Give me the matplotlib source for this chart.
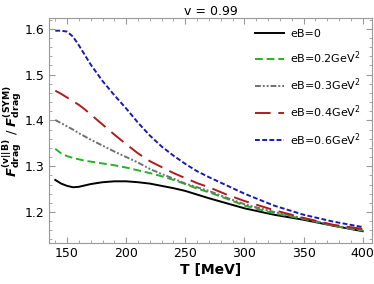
import numpy as np
import matplotlib
matplotlib.use('Agg')
import matplotlib.pyplot as plt
from matplotlib.ticker import MultipleLocator

# Temperature grid [MeV]
T = [140, 145, 150, 155, 160, 165, 170, 180, 190, 200, 210, 220, 230,
     240, 250, 260, 270, 285, 300, 325, 350, 375, 400]

# ratio F_drag(v||B) / F_drag(SYM)
eB_0 = [1.270, 1.262, 1.257, 1.254, 1.255, 1.258, 1.261, 1.265, 1.267,
        1.267, 1.265, 1.262, 1.257, 1.252, 1.246, 1.238, 1.230, 1.219,
        1.208, 1.194, 1.183, 1.170, 1.158]
eB_02 = [1.338, 1.328, 1.322, 1.318, 1.315, 1.312, 1.310, 1.306, 1.302,
         1.297, 1.291, 1.285, 1.278, 1.270, 1.261, 1.251, 1.243, 1.229,
         1.214, 1.197, 1.185, 1.170, 1.159]
eB_03 = [1.401, 1.394, 1.387, 1.380, 1.372, 1.365, 1.358, 1.345, 1.332,
         1.320, 1.308, 1.294, 1.283, 1.273, 1.262, 1.254, 1.246, 1.231,
         1.217, 1.200, 1.186, 1.171, 1.160]
eB_04 = [1.465, 1.458, 1.450, 1.442, 1.434, 1.424, 1.413, 1.391, 1.369,
         1.348, 1.328, 1.311, 1.298, 1.285, 1.274, 1.263, 1.254, 1.238,
         1.224, 1.204, 1.187, 1.172, 1.163]
eB_06 = [1.596, 1.596, 1.594, 1.583, 1.564, 1.543, 1.522, 1.486, 1.455,
         1.426, 1.395, 1.367, 1.343, 1.323, 1.305, 1.289, 1.276, 1.258,
         1.240, 1.214, 1.194, 1.179, 1.167]

labels = ['eB=0', 'eB=0.2GeV$^2$', 'eB=0.3GeV$^2$', 'eB=0.4GeV$^2$',
          'eB=0.6GeV$^2$']

fig = plt.figure(figsize=(3.74, 2.84), dpi=100)
ax = fig.add_axes([0.131, 0.144, 0.864, 0.793])

ax.plot(T, eB_0, color='black', lw=1.4, label=labels[0])
ax.plot(T, eB_02, color='#22b422', lw=1.4, ls=(0, (4, 2)), label=labels[1])
ax.plot(T, eB_03, color='#707070', lw=1.4, ls=(0, (3, 1, 1, 1, 1, 1)),
        label=labels[2])
ax.plot(T, eB_04, color='#b01c1c', lw=1.4, ls=(0, (8, 4)), label=labels[3])
ax.plot(T, eB_06, color='#1a1ab0', lw=1.4, ls=(0, (2.5, 1.2)),
        label=labels[4])

ax.set_xlim(134.7, 408)
ax.set_ylim(1.132, 1.624)
ax.xaxis.set_major_locator(MultipleLocator(50))
ax.xaxis.set_minor_locator(MultipleLocator(10))
ax.yaxis.set_major_locator(MultipleLocator(0.1))
ax.yaxis.set_minor_locator(MultipleLocator(0.02))
ax.tick_params(which='both', direction='in', top=True, right=True,
               color='#999999', labelsize=9)
ax.tick_params(which='major', length=4, pad=3)
ax.tick_params(which='minor', length=2)
for s in ax.spines.values():
    s.set_color('#999999')
    s.set_linewidth(0.8)

ax.set_title('v = 0.99', fontsize=9, pad=2)
ax.set_xlabel('T [MeV]', fontsize=10, fontweight='bold', labelpad=2)
ax.set_ylabel(r'$\mathbfit{F}^{\mathbf{(v||B)}}_{\mathbf{drag}}$ / '
              r'$\mathbfit{F}^{\mathbf{(SYM)}}_{\mathbf{drag}}$',
              fontsize=9.5, labelpad=1)

ax.legend(loc='upper right', frameon=False, fontsize=8, handlelength=2.6,
          labelspacing=0.95, borderaxespad=0.6, handletextpad=0.6)

fig.savefig('out.png', dpi=100)
